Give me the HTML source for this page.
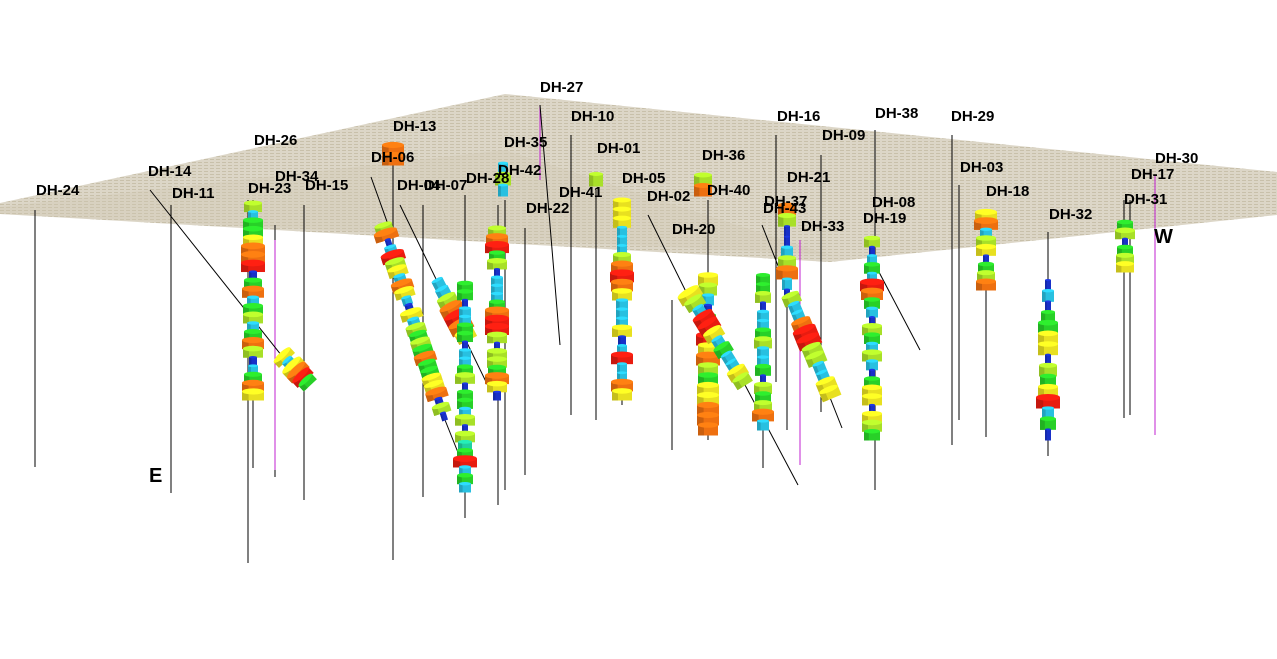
<!DOCTYPE html>
<html><head><meta charset="utf-8"><style>
html,body{margin:0;padding:0;background:#fff;width:1277px;height:659px;overflow:hidden}
svg{display:block}
text{font-family:"Liberation Sans",sans-serif;font-weight:bold;fill:#000}
</style></head><body>
<svg id="s" width="1277" height="659" viewBox="0 0 1277 659" xmlns="http://www.w3.org/2000/svg">
<defs>
<pattern id="p" width="6" height="3" patternUnits="userSpaceOnUse">
<rect width="6" height="3" fill="#dcd6c7"/><rect width="4" height="1" fill="#c8c0aa"/>
</pattern>
</defs>
<polygon points="0,203 505,94 1277,172 1277,215 830,262 0,214" fill="url(#p)"/>
<polygon points="0,207 505,150 830,255 0,214" fill="#d0c8b4" opacity="0.35"/>
<g id="lines" stroke="#000" stroke-width="1" fill="none"></g>
<g id="holes"></g>
<g id="labels" font-size="15"></g>
<text x="149" y="482" font-size="20">E</text>
<text x="1154" y="243" font-size="20" fill="#333">W</text>
</svg>
<script>
var NS="http://www.w3.org/2000/svg";
var L=document.getElementById("lines"),H=document.getElementById("holes"),T=document.getElementById("labels");
function el(p,n,a){var e=document.createElementNS(NS,n);for(var k in a)e.setAttribute(k,a[k]);p.appendChild(e);return e;}
var vl=[[35,210,467],[171,205,493],[248,200,563],[253,200,468],[275,225,477],[304,205,500],[393,165,560],[423,205,497],[465,195,518],[498,205,505],[505,200,490],[525,228,475],[571,135,415],[596,190,420],[622,200,405],[672,300,450],[708,200,440],[763,275,468],[776,135,382],[787,210,430],[821,155,412],[875,130,490],[952,135,445],[959,185,420],[986,215,437],[1048,232,456],[1124,200,418],[1130,200,415]];
vl.forEach(function(v){el(L,"line",{x1:v[0],y1:v[1],x2:v[0],y2:v[2]});});
[[1155,175,435],[800,240,465],[540,105,180],[275,240,470]].forEach(function(v){el(L,"line",{x1:v[0],y1:v[1],x2:v[0],y2:v[2],stroke:"#c020d0"});});
[[150,190,305,385],[540,105,560,345],[648,215,700,320],[870,255,920,350],[745,385,798,485],[762,225,842,428],[371,177,390,230],[400,205,490,390],[445,420,465,470]].forEach(function(v){el(L,"line",{x1:v[0],y1:v[1],x2:v[2],y2:v[3]});});
var C={r:"#e81c10",o:"#ee7010",y:"#e8e020",l:"#a8e028",g:"#28d028",c:"#28c0e0",b:"#1830c8",t:"#20d0a0"};
function sh(h,f){var n=parseInt(h.slice(1),16),r=n>>16,g=(n>>8)&255,b=n&255;r=Math.min(255,Math.round(r*f));g=Math.min(255,Math.round(g*f));b=Math.min(255,Math.round(b*f));return "rgb("+r+","+g+","+b+")";}
function hole(x1,y1,x2,y2,seq){
 var s=seq.split(" "),n=s.length,dx=x2-x1,dy=y2-y1,len=Math.sqrt(dx*dx+dy*dy),h=len/n;
 var ang=Math.atan2(dx,dy)*180/Math.PI;
 var g=el(H,"g",{transform:"translate("+x1+","+y1+") rotate("+(-ang)+")"});
 for(var i=0;i<n;i++){var c=C[s[i][0]],w=parseInt(s[i].slice(1));var y=i*h;
  el(g,"rect",{x:-w,y:y,width:2*w,height:h+0.5,fill:c});
  el(g,"rect",{x:-w,y:y,width:w*0.6,height:h+0.5,fill:sh(c,0.85)});
  el(g,"ellipse",{cx:0,cy:y,rx:w,ry:Math.max(1,w*0.28),fill:sh(c,1.15)});
 }
}
hole(253,203,253,400,"l9 c5 g10 g10 y10 o12 o12 r12 b4 g9 o11 c6 g10 l10 c6 g9 o11 l10 b4 c5 g9 o11 y11");
hole(282,355,310,385,"y11 c6 y12 o12 r11 g9");
hole(383,225,445,420,"l9 o12 b3 c6 r12 l10 y10 c6 o11 y10 c5 b4 y11 c6 l10 g9 l10 g10 o11 g9 g9 y10 y10 o11 b4 l9 b3");
hole(437,280,468,340,"c6 c7 l10 o12 r12 o12 y10");
hole(465,283,465,492,"g8 g8 b3 c6 c6 g8 g8 b3 c6 c6 g8 l10 b3 g8 g8 c6 l10 b3 l10 t7 g8 r12 c6 g8 c6");
hole(497,228,497,400,"l9 o11 r12 g8 l10 b3 c6 c6 c6 g8 o12 r12 r12 l10 b3 l10 l10 g9 o12 y10 b4");
hole(622,200,622,400,"y9 y9 y9 c5 c5 c5 l9 o11 r12 o11 y10 c6 c6 c6 y10 b4 c5 r11 c5 c5 o11 y10");
hole(708,275,708,435,"y10 l9 c6 b4 g8 c6 r12 y10 o12 l10 g10 y11 y11 o11 o11 o10");
hole(688,292,745,385,"y12 l10 c6 r11 r11 y10 c6 g9 c6 c6 y10 l9");
hole(763,275,763,430,"g7 g7 l8 b3 c6 c6 g8 l9 c6 c6 g8 b3 l9 g8 l9 o11 c6");
hole(787,205,787,300,"o9 l9 b3 b3 c6 l9 o11 c5 b3");
hole(790,295,832,398,"l9 c6 c6 o10 r12 r12 l10 l10 c6 c6 y10 y10");
hole(872,238,872,440,"l8 b3 c5 g8 c5 r12 o11 g8 c6 b3 l10 g8 c6 l10 c6 b3 g8 y10 y10 b3 y10 l10 g8");
hole(986,212,986,290,"y11 o12 c6 l10 y10 b3 g8 l9 o10");
hole(1048,280,1048,440,"b3 c6 b3 g7 g10 y10 y10 b3 l9 g8 y10 r12 c6 g8 b3");
hole(1125,222,1125,272,"g8 l10 b3 g8 l9 y9");
hole(703,175,703,196,"l9 o9");
hole(393,145,393,165,"o11 o11");
hole(503,163,503,196,"c5 l8 c5");
hole(596,174,596,186,"l7");
var lb=[["DH-27",540,87],["DH-13",393,126],["DH-10",571,116],["DH-26",254,140],["DH-35",504,142],["DH-01",597,148],["DH-16",777,116],["DH-38",875,113],["DH-29",951,116],["DH-09",822,135],["DH-06",371,157],["DH-36",702,155],["DH-03",960,167],["DH-30",1155,158],["DH-14",148,171],["DH-34",275,176],["DH-42",498,170],["DH-05",622,178],["DH-21",787,177],["DH-17",1131,174],["DH-11",172,193],["DH-23",248,188],["DH-15",305,185],["DH-04",397,185],["DH-07",424,185],["DH-28",466,178],["DH-41",559,192],["DH-02",647,196],["DH-40",707,190],["DH-18",986,191],["DH-24",36,190],["DH-37",764,201],["DH-43",763,208],["DH-08",872,202],["DH-31",1124,199],["DH-22",526,208],["DH-33",801,226],["DH-19",863,218],["DH-32",1049,214],["DH-20",672,229]];
lb.forEach(function(a){var t=el(T,"text",{x:a[1],y:a[2]+5});t.textContent=a[0];});
</script>
</body></html>
